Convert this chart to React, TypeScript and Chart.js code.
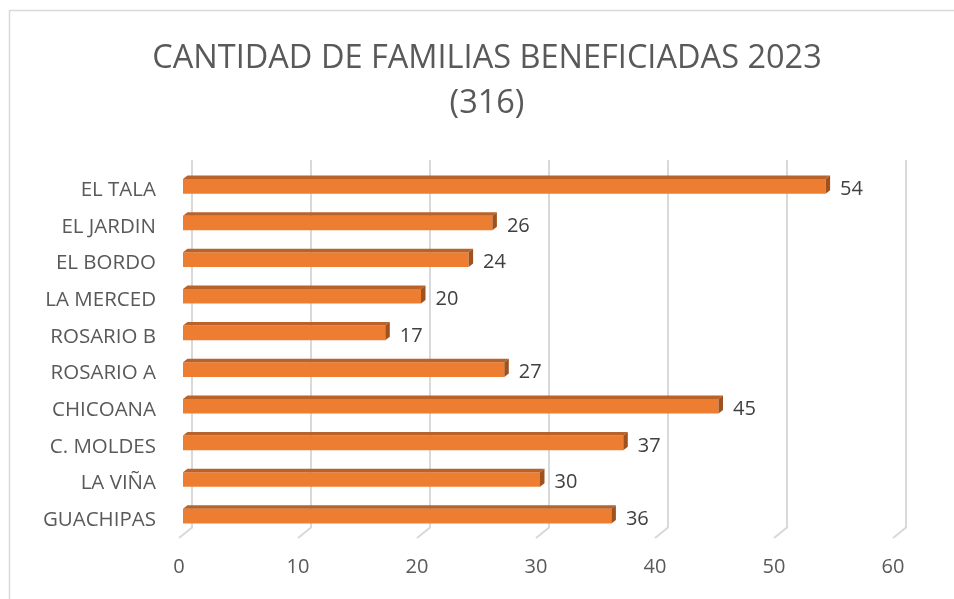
import React, { useEffect, useRef } from "react";
import { Chart, registerables } from "chart.js";

Chart.register(...registerables);

const categories = [
  "EL TALA",
  "EL JARDIN",
  "EL BORDO",
  "LA MERCED",
  "ROSARIO B",
  "ROSARIO A",
  "CHICOANA",
  "C. MOLDES",
  "LA VIÑA",
  "GUACHIPAS",
];
const familias = [54, 26, 24, 20, 17, 27, 45, 37, 30, 36];
const titleLines = ["CANTIDAD DE FAMILIAS BENEFICIADAS 2023", "(316)"];
const xTicks = [0, 10, 20, 30, 40, 50, 60];

const FONT = "'Open Sans', 'Noto Sans', sans-serif";

const frame3d = {
  id: "frame3d",
  beforeDraw(chart: any) {
    const ctx = chart.ctx;
    ctx.save();
    ctx.fillStyle = "#ffffff";
    ctx.fillRect(0, 0, chart.width, chart.height);
    ctx.strokeStyle = "#d9d9d9";
    ctx.lineWidth = 1.5;
    ctx.beginPath();
    ctx.moveTo(9.5, chart.height);
    ctx.lineTo(9.5, 10.5);
    ctx.lineTo(chart.width, 10.5);
    ctx.stroke();
    ctx.restore();
  },
  beforeDatasetsDraw(chart: any) {
    const ctx = chart.ctx;
    const xs = chart.scales.x;
    const area = chart.chartArea;
    ctx.save();
    ctx.strokeStyle = "#d9d9d9";
    ctx.lineWidth = 2;
    xTicks.forEach((v) => {
      const xb = xs.getPixelForValue(v) + 9;
      ctx.beginPath();
      ctx.moveTo(xb, area.top - 8);
      ctx.lineTo(xb, area.bottom - 7);
      ctx.lineTo(xb - 13, area.bottom + 3.5);
      ctx.stroke();
    });
    ctx.restore();
  },
  afterDatasetsDraw(chart: any) {
    const ctx = chart.ctx;
    const meta = chart.getDatasetMeta(0);
    const d = 4.5;
    const dv = 3.5;
    ctx.save();
    meta.data.forEach((bar: any, i: number) => {
      const { x, y, base, height } = bar.getProps(["x", "y", "base", "height"], true);
      const top = y - height / 2;
      const bottom = y + height / 2;
      ctx.fillStyle = "#B9622A";
      ctx.beginPath();
      ctx.moveTo(base, top);
      ctx.lineTo(base + d, top - dv);
      ctx.lineTo(x + d, top - dv);
      ctx.lineTo(x, top);
      ctx.closePath();
      ctx.fill();
      ctx.fillStyle = "#A0521E";
      ctx.beginPath();
      ctx.moveTo(x, top);
      ctx.lineTo(x + d, top - dv);
      ctx.lineTo(x + d, bottom - dv);
      ctx.lineTo(x, bottom);
      ctx.closePath();
      ctx.fill();
      ctx.fillStyle = "#404040";
      ctx.font = `20px ${FONT}`;
      ctx.textAlign = "left";
      ctx.textBaseline = "middle";
      ctx.fillText(String(familias[i]), x + d + 10, y + 3);
    });
    ctx.restore();
  },
};

export default function App() {
  const ref = useRef<HTMLCanvasElement | null>(null);
  useEffect(() => {
    if (!ref.current) return;
    const chart = new Chart(ref.current, {
      type: "bar",
      data: {
        labels: categories,
        datasets: [
          {
            data: familias,
            backgroundColor: "#ED7D31",
            borderWidth: 0,
            barPercentage: 0.4,
            categoryPercentage: 1,
          },
        ],
      },
      options: {
        indexAxis: "y",
        animation: false,
        responsive: false,
        layout: { padding: { left: 20, right: 0, top: 0, bottom: 0 } },
        plugins: {
          legend: { display: false },
          tooltip: { enabled: false },
          title: {
            display: true,
            text: titleLines,
            color: "#595959",
            font: { family: FONT, size: 32.5, weight: "normal", lineHeight: 1.385 },
            padding: { top: 36, bottom: 42 },
          },
        },
        scales: {
          x: {
            min: 0,
            max: 60,
            ticks: {
              stepSize: 10,
              color: "#595959",
              font: { family: FONT, size: 20 },
              padding: 21,
              labelOffset: -4,
            },
            grid: { display: false, drawTicks: false },
            border: { display: false },
            afterFit(scale: any) {
              scale.height = 64.5;
            },
          },
          y: {
            ticks: {
              color: "#595959",
              font: { family: FONT, size: 20.5 },
              padding: 27,
              labelOffset: 4,
            },
            grid: { display: false, drawTicks: false },
            border: { display: false },
            afterFit(scale: any) {
              scale.width = 163;
            },
          },
          yRight: {
            type: "category",
            axis: "y",
            position: "right",
            display: true,
            ticks: { display: false },
            grid: { display: false, drawTicks: false },
            border: { display: false },
            afterFit(scale: any) {
              scale.width = 57;
            },
          },
        },
      },
      plugins: [frame3d],
    });
    return () => chart.destroy();
  }, []);
  return (
    <div style={{ position: "fixed", left: 0, top: 0, width: 954, height: 599 }}>
      <canvas ref={ref} width={954} height={599} style={{ display: "block" }} />
    </div>
  );
}
